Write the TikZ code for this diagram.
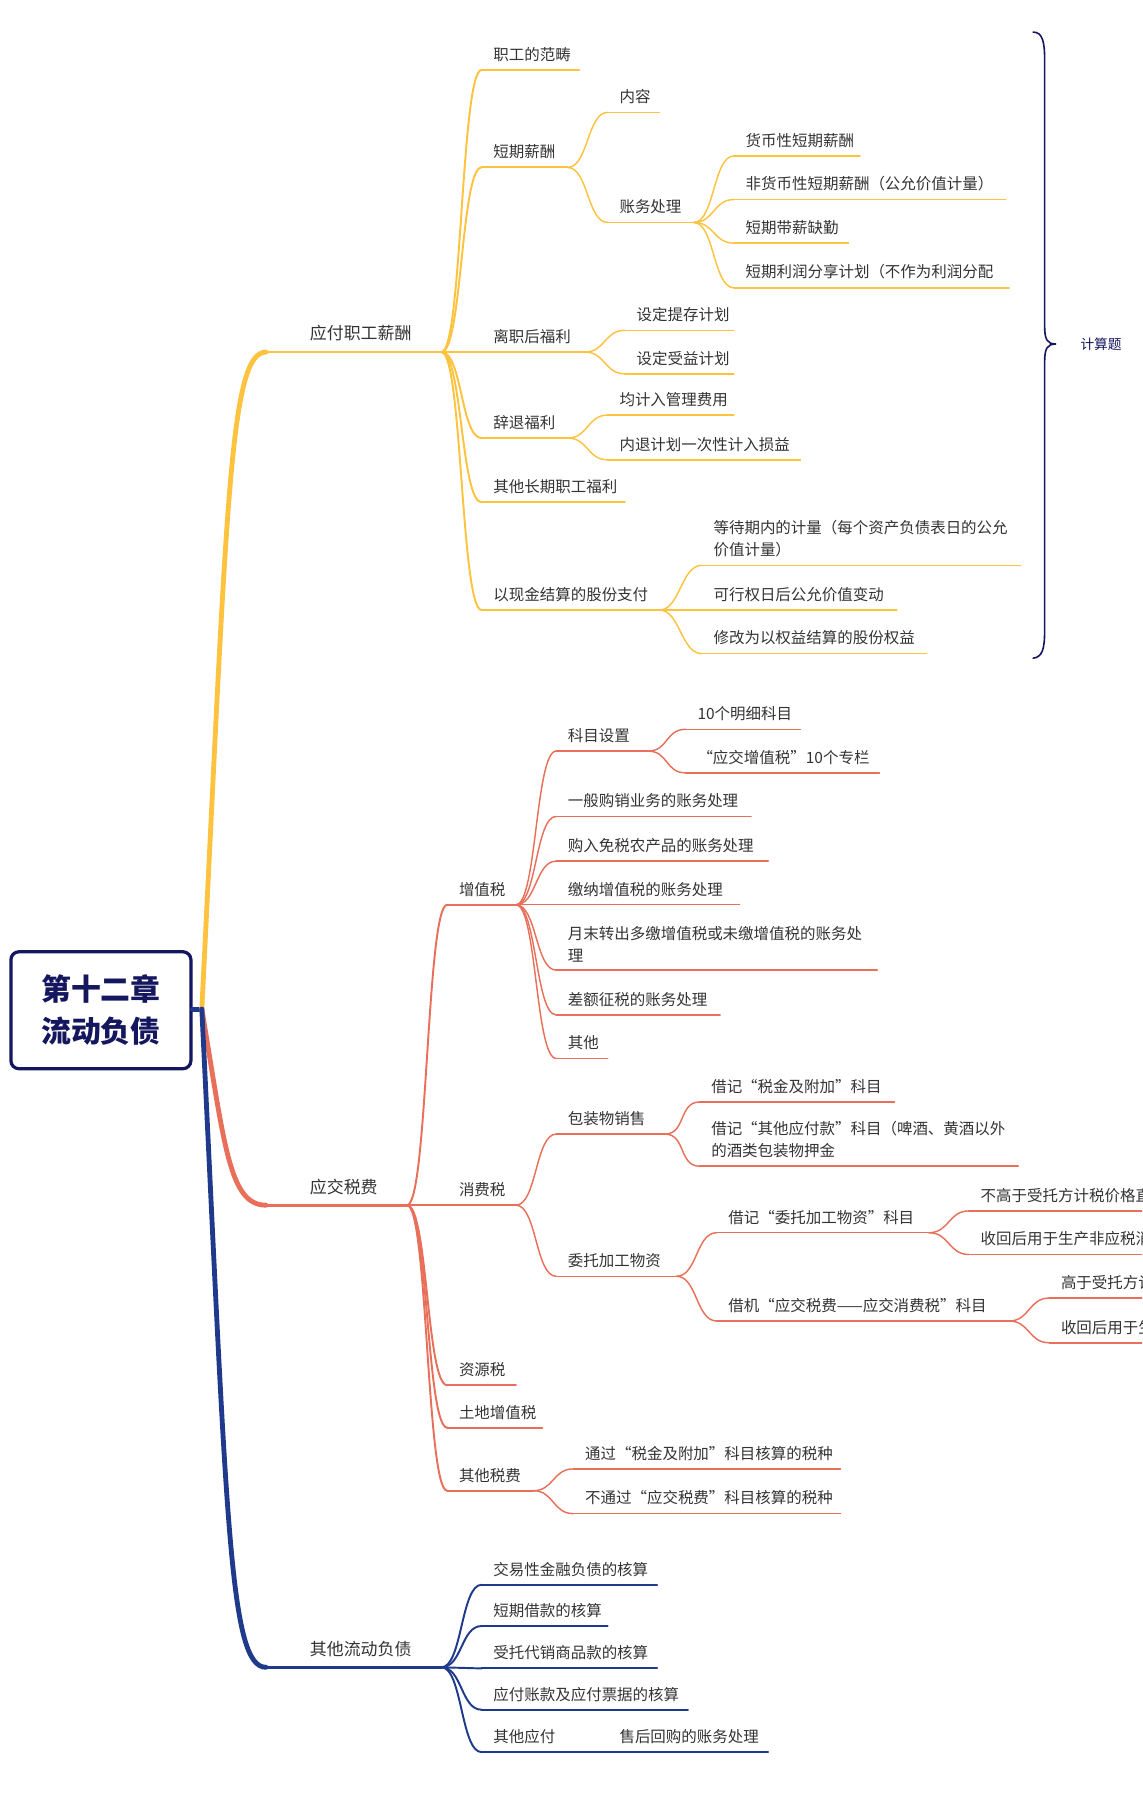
\documentclass[tikz,border=0pt]{standalone}
\usepackage{fontspec}
\setmainfont{Noto Sans CJK SC}
\definecolor{ylw}{HTML}{FDC23E}
\definecolor{tax}{HTML}{E8705A}
\definecolor{nvy}{HTML}{1F3A8A}
\definecolor{rootc}{HTML}{14165E}
\definecolor{txt}{HTML}{333333}
\tikzset{
  lbl/.style={inner sep=0pt,text=txt,font=\fontsize{9.6}{13.5}\selectfont,align=left},
  main-line/.style={line width=3pt},
  sub-line/.style={line width=1.2pt},
  leaf-line/.style={line width=0.9pt},
}
% underlined topic: name, x-start, x-end, y, text
\newcommand\topic[6][]{%
  \coordinate (#2-l) at (#3,#5);
  \coordinate (#2-r) at (#4,#5);
  \draw[#1] (#2-l) -- (#2-r);
  \node[lbl,anchor=south west] (#2) at (#3+10,#5-7) {#6};}
% curved connector from parent to child
\newcommand\link[3][]{%
  \draw[#1] (#2-r) .. controls +(18,0) and +(-18,0) .. (#3-l);}

\begin{document}
\begin{tikzpicture}[x=0.025cm,y=-0.025cm,line cap=round]
	\useasboundingbox (0,0) rectangle (996,1568);
	\clip (0,0) rectangle (996,1568);

	% root
	\node (root)[draw=rootc,line width=2pt,rounded corners=5pt,minimum width=157*0.025cm,
	  minimum height=102*0.025cm,text=rootc,align=center,
	  font=\fontsize{18.5}{26}\selectfont\bfseries] at (88,881) {第十二章\\流动负债};
	\coordinate (root-r) at (176,880);
	\draw[nvy,main-line] (root.east |- root-r) -- (root-r);

	% ---------- 应付职工薪酬 ----------
	\coordinate (a-l) at (232,307); \coordinate (a-r) at (385,307);
	\draw[ylw,main-line] (root-r) .. controls (198,440) and (200,307) .. (a-l);
	\draw[ylw,line width=1.8pt] (a-l) -- (a-r);
	\node[lbl,anchor=south west,font=\fontsize{10.5}{14}\selectfont] (a) at (270,298) {应付职工薪酬};

	\topic[ylw,sub-line]{a1}{420}{505}{61}{职工的范畴}
	\topic[ylw,sub-line]{a2}{420}{495}{146}{短期薪酬}
	\topic[ylw,leaf-line]{a21}{530}{575}{98}{内容}
	\topic[ylw,leaf-line]{a22}{530}{605}{194}{账务处理}
	\topic[ylw,leaf-line]{a221}{640}{750}{136}{货币性短期薪酬}
	\topic[ylw,leaf-line]{a222}{640}{877}{174}{非货币性短期薪酬（公允价值计量）}
	\topic[ylw,leaf-line]{a223}{640}{740}{212}{短期带薪缺勤}
	\topic[ylw,leaf-line]{a224}{640}{880}{251}{短期利润分享计划（不作为利润分配}
	\topic[ylw,sub-line]{a3}{420}{510}{307}{离职后福利}
	\topic[ylw,leaf-line]{a31}{545}{640}{288}{设定提存计划}
	\topic[ylw,leaf-line]{a32}{545}{640}{326}{设定受益计划}
	\topic[ylw,sub-line]{a4}{420}{495}{382}{辞退福利}
	\topic[ylw,leaf-line]{a41}{530}{640}{362}{均计入管理费用}
	\topic[ylw,leaf-line]{a42}{530}{698}{401}{内退计划一次性计入损益}
	\topic[ylw,sub-line]{a5}{420}{545}{438}{其他长期职工福利}
	\topic[ylw,sub-line]{a6}{420}{575}{532}{以现金结算的股份支付}
	\topic[ylw,leaf-line]{a61}{612}{890}{493}{等待期内的计量（每个资产负债表日的公允\\价值计量）}
	\topic[ylw,leaf-line]{a62}{612}{782}{532}{可行权日后公允价值变动}
	\topic[ylw,leaf-line]{a63}{612}{808}{570}{修改为以权益结算的股份权益}

	\foreach \c in {a1,a2,a3,a4,a5,a6} {\link[ylw,sub-line]{a}{\c}}
	\foreach \c in {a21,a22} {\link[ylw,leaf-line]{a2}{\c}}
	\foreach \c in {a221,a222,a223,a224} {\link[ylw,leaf-line]{a22}{\c}}
	\foreach \c in {a31,a32} {\link[ylw,leaf-line]{a3}{\c}}
	\foreach \c in {a41,a42} {\link[ylw,leaf-line]{a4}{\c}}
	\foreach \c in {a61,a62,a63} {\link[ylw,leaf-line]{a6}{\c}}

	% brace
	\coordinate (br-tip) at (921,300);
	\draw[rootc,line width=1pt] (901,28) .. controls (909,28) and (911,36) .. (911,52) -- (911,284)
	  .. controls (911,296) and (913,300) .. (br-tip) .. controls (913,300) and (911,304) .. (911,316)
	  -- (911,550) .. controls (911,566) and (909,573) .. (901,574);
	\node[lbl,text=rootc,anchor=west,font=\fontsize{8.5}{12}\selectfont] (calc) at (942,300) {计算题};

	% ---------- 应交税费 ----------
	\coordinate (b-l) at (232,1051); \coordinate (b-r) at (355,1051);
	\draw[tax,main-line] (root-r) .. controls (196,1000) and (200,1051) .. (b-l);
	\draw[tax,line width=1.8pt] (b-l) -- (b-r);
	\node[lbl,anchor=south west,font=\fontsize{10.5}{14}\selectfont] (b) at (270,1042) {应交税费};

	\topic[tax,sub-line]{b1}{390}{450}{789}{增值税}
	\topic[tax,leaf-line]{b11}{485}{565}{655}{科目设置}
	\topic[tax,leaf-line]{b111}{598}{698}{636}{10个明细科目}
	\topic[tax,leaf-line]{b112}{598}{767}{674}{“应交增值税”10个专栏}
	\topic[tax,leaf-line]{b12}{485}{655}{712}{一般购销业务的账务处理}
	\topic[tax,leaf-line]{b13}{485}{670}{751}{购入免税农产品的账务处理}
	\topic[tax,leaf-line]{b14}{485}{645}{789}{缴纳增值税的账务处理}
	\topic[tax,leaf-line]{b15}{485}{765}{846}{月末转出多缴增值税或未缴增值税的账务处\\理}
	\topic[tax,leaf-line]{b16}{485}{628}{885}{差额征税的账务处理}
	\topic[tax,leaf-line]{b17}{485}{530}{923}{其他}
	\topic[tax,sub-line]{b2}{390}{450}{1051}{消费税}
	\topic[tax,leaf-line]{b21}{485}{580}{989}{包装物销售}
	\topic[tax,leaf-line]{b211}{610}{780}{961}{借记“税金及附加”科目}
	\topic[tax,leaf-line]{b212}{610}{888}{1017}{借记“其他应付款”科目（啤酒、黄酒以外\\的酒类包装物押金}
	\topic[tax,leaf-line]{b22}{485}{590}{1113}{委托加工物资}
	\topic[tax,leaf-line]{b221}{625}{810}{1075}{借记“委托加工物资”科目}
	\topic[tax,leaf-line]{b2211}{845}{1100}{1056}{不高于受托方计税价格直接出售}
	\topic[tax,leaf-line]{b2212}{845}{1100}{1094}{收回后用于生产非应税消费品}
	\topic[tax,leaf-line]{b222}{625}{880}{1152}{借机“应交税费——应交消费税”科目}
	\topic[tax,leaf-line]{b2221}{915}{1100}{1132}{高于受托方计税价格}
	\topic[tax,leaf-line]{b2222}{915}{1100}{1171}{收回后用于生产应税消费品}
	\topic[tax,sub-line]{b3}{390}{450}{1208}{资源税}
	\topic[tax,sub-line]{b4}{390}{473}{1245}{土地增值税}
	\topic[tax,sub-line]{b5}{390}{465}{1300}{其他税费}
	\topic[tax,leaf-line]{b51}{500}{733}{1281}{通过“税金及附加”科目核算的税种}
	\topic[tax,leaf-line]{b52}{500}{733}{1320}{不通过“应交税费”科目核算的税种}

	\foreach \c in {b1,b2,b3,b4,b5} {\link[tax,sub-line]{b}{\c}}
	\foreach \c in {b11,b12,b13,b14,b15,b16,b17} {\link[tax,leaf-line]{b1}{\c}}
	\foreach \c in {b111,b112} {\link[tax,leaf-line]{b11}{\c}}
	\foreach \c in {b21,b22} {\link[tax,leaf-line]{b2}{\c}}
	\foreach \c in {b211,b212} {\link[tax,leaf-line]{b21}{\c}}
	\foreach \c in {b221,b222} {\link[tax,leaf-line]{b22}{\c}}
	\foreach \c in {b2211,b2212} {\link[tax,leaf-line]{b221}{\c}}
	\foreach \c in {b2221,b2222} {\link[tax,leaf-line]{b222}{\c}}
	\foreach \c in {b51,b52} {\link[tax,leaf-line]{b5}{\c}}

	% ---------- 其他流动负债 ----------
	\coordinate (c-l) at (232,1454); \coordinate (c-r) at (385,1454);
	\draw[nvy,main-line] (root-r) .. controls (198,1330) and (200,1454) .. (c-l);
	\draw[nvy,line width=1.8pt] (c-l) -- (c-r);
	\node[lbl,anchor=south west,font=\fontsize{10.5}{14}\selectfont] (c) at (270,1445) {其他流动负债};

	\topic[nvy,sub-line]{c1}{420}{573}{1382}{交易性金融负债的核算}
	\topic[nvy,sub-line]{c2}{420}{530}{1418}{短期借款的核算}
	\topic[nvy,sub-line]{c3}{420}{573}{1455}{受托代销商品款的核算}
	\topic[nvy,sub-line]{c4}{420}{600}{1491}{应付账款及应付票据的核算}
	\topic[nvy,sub-line]{c5}{420}{500}{1528}{其他应付}
	\topic[nvy,leaf-line]{c51}{530}{670}{1528}{售后回购的账务处理}

	\foreach \c in {c1,c2,c3,c4,c5} {\link[nvy,sub-line]{c}{\c}}
	\link[nvy,leaf-line]{c5}{c51}
\end{tikzpicture}
\end{document}
